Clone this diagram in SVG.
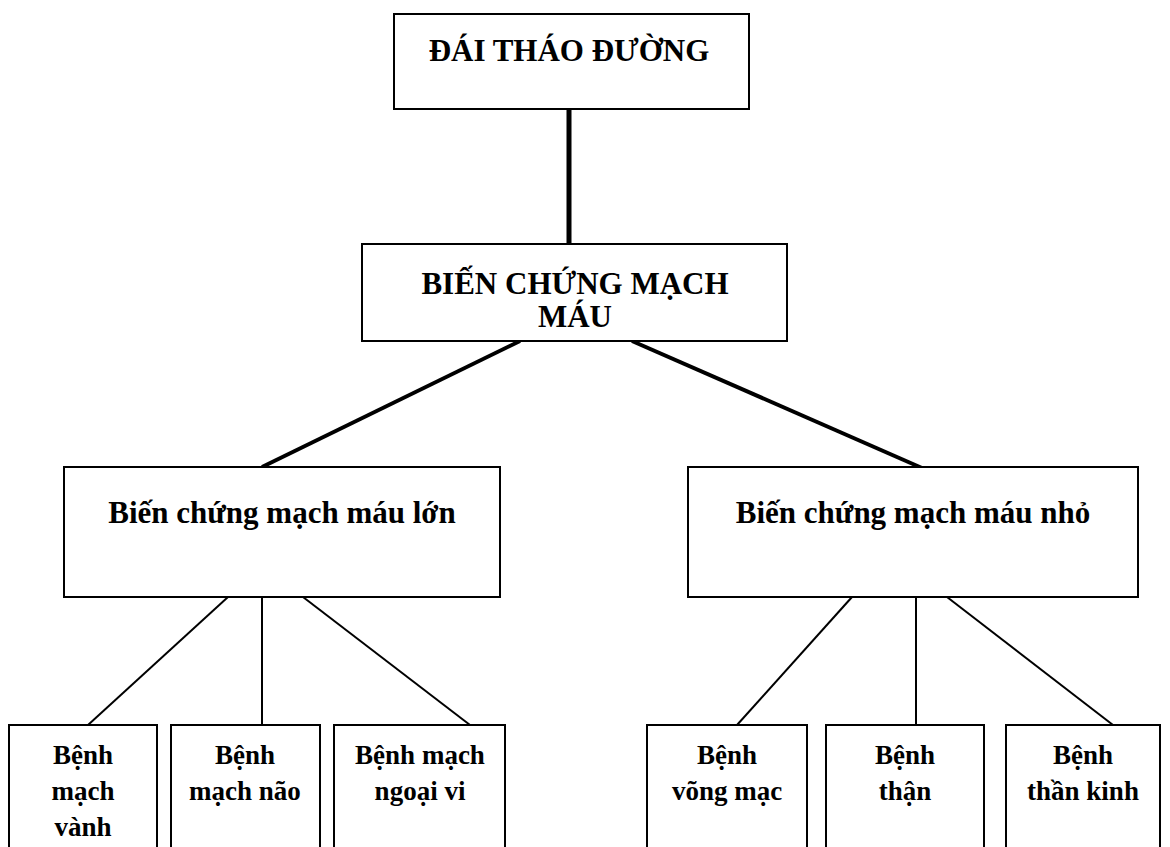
<svg xmlns="http://www.w3.org/2000/svg" width="1170" height="847" viewBox="0 0 1170 847">
<style>
.box{fill:#fff;stroke:#000;stroke-width:2}
.t{font-family:"Liberation Serif","Times New Roman",serif;font-weight:bold;fill:#000;text-anchor:middle}
.big{font-size:31px}
.sm{font-size:27px}
.thick{stroke:#000;stroke-width:5;fill:none}
.mid{stroke:#000;stroke-width:4;fill:none}
.thin{stroke:#000;stroke-width:2;fill:none}
</style>
<rect width="1170" height="847" fill="#fff"/>
<g id="connectors">
<line class="thick" x1="569" y1="109" x2="569" y2="244"/>
<line class="mid" x1="520" y1="341" x2="262" y2="467"/>
<line class="mid" x1="632" y1="341" x2="922" y2="468"/>
<line class="thin" x1="228" y1="597" x2="88" y2="725"/>
<line class="thin" x1="262" y1="597" x2="262" y2="725"/>
<line class="thin" x1="303" y1="597" x2="470" y2="725"/>
<line class="thin" x1="852" y1="597" x2="737" y2="725"/>
<line class="thin" x1="916" y1="597" x2="916" y2="725"/>
<line class="thin" x1="947" y1="597" x2="1113" y2="725"/>
</g>
<g id="n-dtd">
<rect class="box" x="394" y="14" width="355" height="95"/>
<text class="t big" x="569" y="61">ĐÁI THÁO ĐƯỜNG</text>
</g>
<g id="n-bcmm">
<rect class="box" x="362" y="244" width="425" height="97"/>
<text class="t big" x="575" y="294">BIẾN CHỨNG MẠCH</text>
<text class="t big" x="575" y="327">MÁU</text>
</g>
<g id="n-lon">
<rect class="box" x="64" y="467" width="436" height="130"/>
<text class="t big" x="282" y="523">Biến chứng mạch máu lớn</text>
</g>
<g id="n-nho">
<rect class="box" x="688" y="467" width="450" height="130"/>
<text class="t big" x="913" y="523">Biến chứng mạch máu nhỏ</text>
</g>
<g id="n-vanh">
<rect class="box" x="9" y="725" width="148" height="130"/>
<text class="t sm" x="83" y="764">Bệnh</text>
<text class="t sm" x="83" y="800">mạch</text>
<text class="t sm" x="83" y="836">vành</text>
</g>
<g id="n-nao">
<rect class="box" x="171" y="725" width="149" height="130"/>
<text class="t sm" x="245" y="764">Bệnh</text>
<text class="t sm" x="245" y="800">mạch não</text>
</g>
<g id="n-ngoaivi">
<rect class="box" x="334" y="725" width="171" height="130"/>
<text class="t sm" x="420" y="764">Bệnh mạch</text>
<text class="t sm" x="420" y="800">ngoại vi</text>
</g>
<g id="n-vongmac">
<rect class="box" x="647" y="725" width="160" height="130"/>
<text class="t sm" x="727" y="764">Bệnh</text>
<text class="t sm" x="727" y="800">võng mạc</text>
</g>
<g id="n-than">
<rect class="box" x="826" y="725" width="158" height="130"/>
<text class="t sm" x="905" y="764">Bệnh</text>
<text class="t sm" x="905" y="800">thận</text>
</g>
<g id="n-thankinh">
<rect class="box" x="1006" y="725" width="154" height="130"/>
<text class="t sm" x="1083" y="764">Bệnh</text>
<text class="t sm" x="1083" y="800">thần kinh</text>
</g>
</svg>
